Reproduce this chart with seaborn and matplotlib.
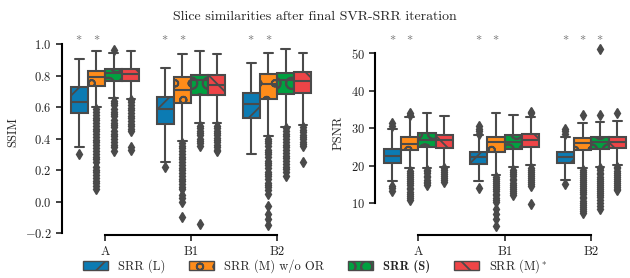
import numpy as np
import pandas as pd
import matplotlib
matplotlib.use("Agg")
import matplotlib.pyplot as plt
import seaborn as sns
from matplotlib.patches import Patch
from matplotlib.colors import to_rgba

cases = ["A", "B1", "B2"]
methods = ["SRR (L)", "SRR (M) w/o OR", "SRR (S)", "SRR (M)*"]
legend_labels = ["SRR (L)", "SRR (M) w/o OR", "SRR (S)", "SRR (M)$^*$"]
colors = ["#0C7BB3", "#FF8C1A", "#00A040", "#EE4447"]
hatches = ["/", "o", "O", "\\"]
line_gray = "#4a4a4a"

# box summaries: (lower whisker, q1, median, q3, upper whisker), per case
ssim_L = [(0.345, 0.56, 0.633, 0.725, 0.905), (0.253, 0.49, 0.587, 0.665, 0.85), (0.30, 0.528, 0.617, 0.69, 0.881)]
ssim_M = [(0.60, 0.733, 0.79, 0.83, 0.955), (0.386, 0.623, 0.708, 0.788, 0.935), (0.415, 0.648, 0.744, 0.81, 0.94)]
ssim_S = [(0.655, 0.765, 0.814, 0.841, 0.945), (0.50, 0.676, 0.771, 0.803, 0.955), (0.475, 0.68, 0.771, 0.818, 0.968)]
ssim_Ms = [(0.65, 0.765, 0.81, 0.842, 0.955), (0.50, 0.676, 0.74, 0.803, 0.935), (0.485, 0.687, 0.765, 0.824, 0.945)]

ssim_L_fl = [[0.30], [0.217], []]
ssim_M_fl = [
    [0.585, 0.57, 0.55, 0.53, 0.515, 0.50, 0.48, 0.46, 0.445, 0.43, 0.41, 0.39, 0.375, 0.36, 0.34,
     0.32, 0.30, 0.285, 0.27, 0.25, 0.22, 0.20, 0.185, 0.17, 0.15, 0.13, 0.115, 0.10, 0.08],
    [0.37, 0.355, 0.34, 0.32, 0.30, 0.285, 0.27, 0.25, 0.23, 0.215, 0.20, 0.18, 0.16, 0.145, 0.13,
     0.11, 0.095, 0.08, 0.04, 0.02, 0.0, -0.10],
    [0.40, 0.385, 0.37, 0.35, 0.33, 0.315, 0.30, 0.28, 0.26, 0.245, 0.23, 0.21, 0.19, 0.175, 0.16,
     0.14, 0.12, 0.105, 0.09, 0.07, 0.05, -0.03, -0.08, -0.11, -0.15],
]
ssim_S_fl = [
    [0.965, 0.64, 0.625, 0.61, 0.59, 0.57, 0.555, 0.54, 0.52, 0.50, 0.485, 0.47, 0.45, 0.43, 0.415,
     0.40, 0.38, 0.36, 0.345, 0.32],
    [0.48, 0.465, 0.45, 0.435, 0.42, 0.40, 0.385, 0.37, 0.35, -0.14],
    [0.465, 0.45, 0.43, 0.415, 0.40, 0.38, 0.36, 0.345, 0.33, 0.31, 0.29, 0.275, 0.26, 0.24, 0.22,
     0.205, 0.19, 0.165],
]
ssim_Ms_fl = [
    [0.645, 0.63, 0.61, 0.595, 0.58, 0.56, 0.545, 0.53, 0.51, 0.495, 0.48, 0.46, 0.445, 0.345, 0.325],
    [0.48, 0.465, 0.45, 0.435, 0.42, 0.405, 0.39, 0.375, 0.36, 0.345, 0.33, 0.32],
    [0.47, 0.455, 0.44, 0.425, 0.41, 0.395, 0.38, 0.365, 0.35, 0.25],
]

psnr_L = [(16.0, 20.7, 22.6, 24.5, 29.8), (15.9, 20.5, 22.4, 23.6, 28.2), (16.1, 20.7, 22.4, 23.8, 27.8)]
psnr_M = [(19.3, 24.2, 25.9, 27.8, 33.0), (17.5, 23.6, 26.4, 27.8, 34.0), (19.3, 24.2, 26.2, 27.5, 31.5)]
psnr_S = [(19.3, 24.9, 26.9, 28.7, 34.0), (19.8, 24.6, 26.4, 28.3, 33.5), (19.8, 24.5, 26.4, 27.8, 31.8)]
psnr_Ms = [(19.8, 24.8, 26.9, 28.3, 33.3), (20.2, 24.9, 26.9, 28.4, 32.9), (20.2, 24.7, 26.4, 27.8, 32.0)]

psnr_L_fl = [[30.6, 31.3, 14.7, 14.0, 13.3], [28.6, 29.2, 29.8, 30.5, 14.2], [28.6, 29.2, 29.9, 15.2]]
psnr_M_fl = [
    [33.5, 34.0, 18.6, 18.1, 17.5, 17.0, 16.4, 15.9, 15.3, 14.8, 14.2, 13.7, 13.1, 12.6, 12.0, 11.5, 11.0],
    [17.0, 16.5, 15.9, 15.4, 14.8, 14.3, 13.7, 13.2, 12.6, 12.1, 11.5, 11.0, 10.4, 8.6, 7.1, 5.8, 3.9],
    [33.5, 19.0, 18.4, 17.9, 17.3, 16.8, 16.2, 15.7, 15.1, 14.6, 14.0, 13.5, 12.9, 12.4, 11.8, 11.3,
     10.7, 10.2, 9.6, 9.1, 8.5, 7.9, 7.3],
]
psnr_S_fl = [
    [19.0, 18.5, 18.0, 17.4, 16.9, 16.3, 15.8, 15.3, 14.9],
    [18.8, 18.3, 17.7, 17.2, 16.6, 16.1, 15.5, 15.0, 14.4, 13.9, 13.3, 12.8, 12.2],
    [33.5, 51.1, 19.3, 18.8, 18.2, 17.7, 17.1, 16.6, 16.0, 15.5, 14.9, 14.4, 13.8, 13.3, 12.7, 12.2,
     11.6, 10.9, 10.0, 9.2, 8.4],
]
psnr_Ms_fl = [
    [19.4, 18.9, 18.4, 17.8, 17.3, 16.8, 16.3, 15.8],
    [34.0, 34.4, 19.5, 19.0, 18.4, 17.9, 17.3, 16.8, 16.2, 15.7, 15.1, 14.5, 9.7],
    [34.0, 19.8, 19.3, 18.7, 18.2, 17.6, 17.1, 16.5, 16.0, 15.4, 14.9, 14.3, 13.8, 13.5],
]

# significance markers: (case index, method index)
ssim_stars = [(0, 0), (0, 1), (1, 0), (1, 1), (2, 0), (2, 1)]
psnr_stars = [(0, 0), (0, 1), (1, 0), (1, 1), (2, 0), (2, 1), (2, 2)]


def samples(stats, fliers):
    # expand a five-number summary plus outliers into a sample with the same box statistics
    lo, q1, med, q3, hi = stats
    return list(fliers) + [lo] + [q1] * 60 + [med] * 60 + [q3] * 60 + [hi]


def long_frame(stat_lists, flier_lists):
    rows = []
    for m, st_list, fl_list in zip(methods, stat_lists, flier_lists):
        for c, st, fl in zip(cases, st_list, fl_list):
            for v in samples(st, fl):
                rows.append((c, m, v))
    return pd.DataFrame(rows, columns=["case", "method", "value"])


ssim_df = long_frame([ssim_L, ssim_M, ssim_S, ssim_Ms], [ssim_L_fl, ssim_M_fl, ssim_S_fl, ssim_Ms_fl])
psnr_df = long_frame([psnr_L, psnr_M, psnr_S, psnr_Ms], [psnr_L_fl, psnr_M_fl, psnr_S_fl, psnr_Ms_fl])

sns.set_style("ticks")
plt.rcParams["font.family"] = ["cmr10", "DejaVu Serif"]
plt.rcParams["mathtext.fontset"] = "cm"
plt.rcParams["axes.formatter.use_mathtext"] = True
plt.rcParams["hatch.linewidth"] = 1.3
plt.rcParams["hatch.color"] = line_gray

fig = plt.figure(figsize=(6.3, 2.78), dpi=100)
ax1 = fig.add_axes([62 / 630, 43 / 278, 258 / 630, 205 / 278])
ax2 = fig.add_axes([375 / 630, 43 / 278, 255 / 630, 205 / 278])

palette = dict(zip(methods, colors))
flierprops = dict(marker="d", markerfacecolor=line_gray, markeredgecolor=line_gray, markersize=5)


def draw(ax, df, ylabel, ylim, yticks, xlim, stars, star_y):
    sns.boxplot(data=df, x="case", y="value", hue="method", order=cases, hue_order=methods,
                palette=palette, saturation=1, linewidth=1.5, linecolor=line_gray,
                flierprops=flierprops, width=0.8, legend=False, ax=ax)
    face_to_hatch = {tuple(np.round(to_rgba(c), 2)): h for c, h in zip(colors, hatches)}
    for p in ax.patches:
        key = tuple(np.round(p.get_facecolor(), 2))
        if key in face_to_hatch:
            p.set_hatch(face_to_hatch[key])
    ax.set_ylim(*ylim)
    ax.set_yticks(yticks)
    ax.set_xlim(*xlim)
    ax.set_xlabel("")
    ax.set_ylabel(ylabel, fontsize=9)
    ax.tick_params(labelsize=9, width=1.2, length=4, colors="#222222")
    for ci, mi in stars:
        ax.text(ci - 0.3 + 0.2 * mi, star_y, "$\\ast$", ha="center", va="center",
                fontsize=9, color="#707070")
    sns.despine(ax=ax, trim=True)
    for s in ["left", "bottom"]:
        ax.spines[s].set_linewidth(1.5)
        ax.spines[s].set_color("black")


draw(ax1, ssim_df, "SSIM", (-0.2127, 1.0889), [-0.2, 0.0, 0.2, 0.4, 0.6, 0.8, 1.0],
     (-0.5, 2.5), ssim_stars, 1.043)
draw(ax2, psnr_df, "PSNR", (1.55, 56.2), [10, 20, 30, 40, 50],
     (-0.5, 2.448), psnr_stars, 54.3)

fig.suptitle("Slice similarities after final SVR-SRR iteration", fontsize=10, y=0.94, va="center")

handles = [Patch(facecolor=c, edgecolor=line_gray, hatch=h, linewidth=1.0) for c, h in zip(colors, hatches)]
leg = fig.legend(handles, legend_labels, loc="center", bbox_to_anchor=(0.5, 0.043), ncol=4,
                 frameon=False, fontsize=9, handlelength=2.0, columnspacing=1.9, handletextpad=0.8)
leg.get_texts()[2].set_fontfamily("cmb10")

fig.savefig("out.png", dpi=100)
